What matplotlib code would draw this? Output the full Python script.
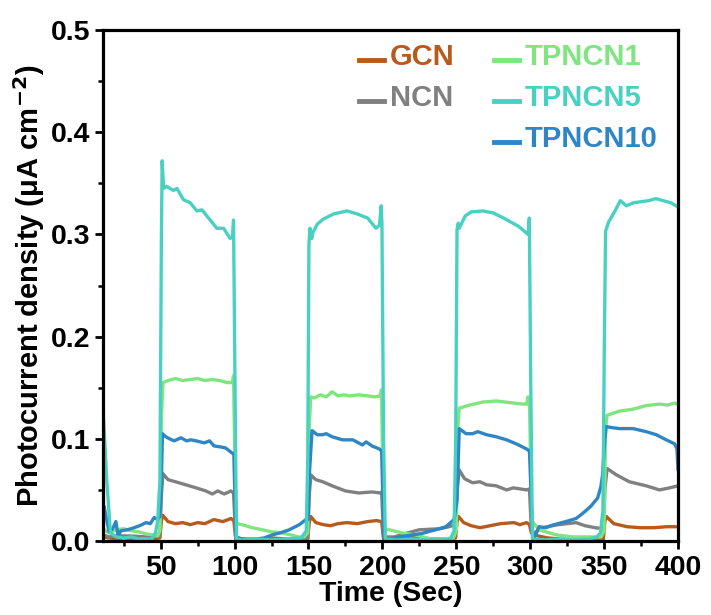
import matplotlib
matplotlib.use("Agg")
import matplotlib.pyplot as plt
from matplotlib.lines import Line2D
from matplotlib.legend_handler import HandlerLine2D
from matplotlib.ticker import MultipleLocator

# photocurrent traces, light on/off every 50 s
t_gcn = [11, 15, 20, 25, 30, 35, 40, 45, 49.5, 50.5, 51.5, 55, 60, 65, 70, 75, 80, 86, 92, 97.5, 99.5, 100.8,
         105, 115, 125, 135, 145, 149.5, 150.5, 151.5, 155, 160, 165, 170, 176, 183, 190, 196, 199.5, 200.8,
         205, 212, 218, 225, 235, 245, 249.5, 250.5, 251.5, 255, 260, 266, 273, 280, 289, 293, 297.5, 299.5, 300.8,
         305, 312, 320, 330, 340, 349.5, 350.5, 351.5, 356.5, 365.5, 374.5, 383.5, 392.5, 400]
j_gcn = [0.004, 0.003, 0.002, 0.003, 0.002, 0.003, 0.002, 0.002, 0.003, 0.020, 0.025, 0.019, 0.017, 0.018, 0.016,
         0.018, 0.017, 0.021, 0.019, 0.022, 0.020, 0.002,
         0.001, 0.001, 0.003, 0.002, 0.001, 0.002, 0.018, 0.024, 0.018, 0.016, 0.015, 0.017, 0.018, 0.017, 0.019,
         0.020, 0.019, 0.002,
         0.001, 0.003, 0.004, 0.003, 0.002, 0.002, 0.003, 0.019, 0.024, 0.018, 0.015, 0.013, 0.015, 0.017, 0.018,
         0.016, 0.018, 0.016, 0.008,
         0.005, 0.003, 0.002, 0.001, 0.001, 0.002, 0.019, 0.024, 0.017, 0.014, 0.013, 0.013, 0.014, 0.014]

t_ncn = [11, 15, 20, 30, 40, 45, 49.5, 50.5, 51.5, 55, 60, 67, 74, 80.5, 85, 88.6, 93, 97.5, 99.3, 100.8,
         110, 125, 140, 149.5, 150.5, 151.7, 155, 159.6, 166, 175, 184, 193, 198.5, 199.5, 200.8,
         208, 216, 225, 239, 245, 249.5, 250.5, 252, 255.6, 261, 266, 270.5, 277, 284, 288.6, 297.6, 299.5, 300.8,
         302.8, 308, 319, 331, 337, 344, 349.5, 350.5, 352, 358, 367, 378.5, 387.5, 394.3, 400]
j_ncn = [0.006, 0.004, 0.005, 0.005, 0.004, 0.004, 0.005, 0.045, 0.066, 0.060, 0.058, 0.055, 0.052, 0.049, 0.046,
         0.049, 0.046, 0.049, 0.047, 0.003,
         0.001, 0.002, 0.001, 0.002, 0.045, 0.0645, 0.060, 0.058, 0.054, 0.049, 0.047, 0.048, 0.047, 0.048, 0.004,
         0.004, 0.0075, 0.011, 0.012, 0.014, 0.016, 0.050, 0.0695, 0.061, 0.057, 0.058, 0.055, 0.054, 0.050, 0.052,
         0.050, 0.051, 0.010,
         0.008, 0.013, 0.016, 0.018, 0.015, 0.013, 0.012, 0.050, 0.071, 0.065, 0.058, 0.054, 0.050, 0.052, 0.054]

t_tp1 = [11, 15, 20, 25, 30, 35, 40, 45, 48, 49.5, 50.5, 51.5, 55, 60, 65, 70, 75, 80, 85, 90, 95, 98.5, 99.3,
         100.5, 101.5, 105, 112, 118.7, 125, 132, 138, 143, 147, 149.5, 150.5, 151.5, 154, 158, 162, 166, 170, 174,
         178, 184, 190, 195, 198.6, 199.4, 200.5, 201.5, 204.7, 213, 222, 233, 240, 248, 250, 251, 252, 259, 268,
         277, 283, 288.6, 295, 297.6, 298.5, 299.6, 301, 306, 317.7, 329, 340, 348, 350, 351, 352, 360, 369.5,
         378.5, 387.5, 393, 397.7, 400]
j_tp1 = [0.012, 0.008, 0.011, 0.012, 0.010, 0.009, 0.007, 0.006, 0.005, 0.010, 0.120, 0.155, 0.157, 0.159, 0.157,
         0.158, 0.159, 0.157, 0.158, 0.157, 0.155, 0.155, 0.162,
         0.050, 0.017, 0.016, 0.013, 0.011, 0.009, 0.008, 0.006, 0.004, 0.004, 0.008, 0.110, 0.141, 0.140, 0.143,
         0.141, 0.146, 0.142, 0.143, 0.142, 0.143, 0.142, 0.141, 0.142, 0.148, 0.040, 0.012, 0.011, 0.008, 0.006,
         0.002, 0.002, 0.003, 0.010, 0.110, 0.130, 0.133, 0.136, 0.137, 0.136, 0.135, 0.134, 0.134, 0.141, 0.130,
         0.020, 0.011, 0.006, 0.004, 0.004, 0.004, 0.010, 0.110, 0.123, 0.127, 0.129, 0.1325, 0.134, 0.133, 0.135,
         0.134]

t_tp5 = [11, 13.5, 16, 20, 25, 30, 35, 40, 44, 46.5, 48, 49.5, 50.5, 51, 52, 54, 58.6, 61, 65.4, 70, 74.5, 78,
         82.4, 88, 92.6, 97, 98.6, 99.3, 100.3, 101.3, 105, 115, 125, 135, 145, 148.5, 149.5, 150.3, 151, 152.2,
         153, 156, 160, 167, 176, 183, 190, 195.7, 198, 199.2, 199.7, 200.8, 202, 210, 220, 230, 240, 246, 248.5,
         249.6, 250.5, 251.3, 252, 256, 260, 268, 275, 282, 287, 292, 297, 298.6, 299.4, 300.4, 301.5, 310, 320,
         330, 340, 345, 347.5, 349.2, 350.2, 351, 353, 357, 361, 365, 370, 375, 380, 385, 390, 395, 400]
j_tp5 = [0.130, 0.060, 0.008, 0.004, 0.003, 0.004, 0.002, 0.002, 0.002, 0.008, 0.020, 0.060, 0.300, 0.372, 0.345,
         0.347, 0.343, 0.345, 0.334, 0.331, 0.323, 0.324, 0.316, 0.306, 0.306, 0.296, 0.298, 0.314, 0.150, 0.002,
         0.001, 0.002, 0.001, 0.002, 0.003, 0.010, 0.080, 0.290, 0.306, 0.296, 0.302, 0.310, 0.315, 0.320, 0.323,
         0.320, 0.316, 0.306, 0.309, 0.328, 0.310, 0.100, 0.002, 0.001, 0.002, 0.001, 0.001, 0.002, 0.010, 0.100,
         0.305, 0.311, 0.306, 0.318, 0.322, 0.323, 0.321, 0.316, 0.312, 0.308, 0.302, 0.300, 0.316, 0.150, 0.002,
         0.001, 0.002, 0.001, 0.002, 0.004, 0.008, 0.030, 0.200, 0.303, 0.312, 0.322, 0.333, 0.328, 0.331, 0.332,
         0.333, 0.335, 0.333, 0.331, 0.327]

t_tp10 = [11, 11.7, 15.1, 17.5, 19.7, 21.2, 23.1, 27.5, 32, 36.6, 40, 43, 45.6, 47.8, 49.5, 50.5, 51.2, 53.5, 56,
          59.1, 63.7, 67.5, 70.4, 74, 79.5, 83, 86.2, 90.8, 94, 97.5, 99.5, 100.9, 105, 115, 120, 125.5, 131, 137,
          143.8, 148.3, 149.8, 150.8, 152.4, 156, 159.6, 162, 166, 173, 180, 186.5, 189, 193, 198, 199.5, 201, 205,
          211.5, 220.5, 227, 236, 243, 248.5, 250.5, 252, 256.6, 261, 264.5, 270.5, 277, 284, 290.7, 297.6, 299.5,
          301.7, 302.8, 306, 310.5, 315, 324, 331, 335.5, 341, 345.6, 347.8, 349, 350.2, 351.4, 355, 360.4, 369.5,
          378.5, 385.3, 392, 397.8, 399.3, 400]
j_tp10 = [0.028, 0.034, 0.009, 0.012, 0.019, 0.005, 0.010, 0.011, 0.013, 0.0155, 0.018, 0.017, 0.023, 0.021, 0.024,
          0.060, 0.105, 0.102, 0.100, 0.098, 0.101, 0.098, 0.099, 0.098, 0.096, 0.098, 0.093, 0.092, 0.091, 0.087,
          0.085, 0.004, 0.002, 0.002, 0.003, 0.006, 0.008, 0.011, 0.016, 0.021, 0.021, 0.070, 0.108, 0.104, 0.104,
          0.105, 0.102, 0.099, 0.099, 0.094, 0.097, 0.093, 0.090, 0.088, 0.003, 0.002, 0.004, 0.006, 0.0075, 0.011,
          0.014, 0.021, 0.040, 0.110, 0.105, 0.105, 0.107, 0.104, 0.102, 0.099, 0.095, 0.090, 0.088, 0.004, 0.003,
          0.014, 0.013, 0.0155, 0.019, 0.022, 0.027, 0.034, 0.042, 0.053, 0.065, 0.095, 0.112, 0.111, 0.110, 0.110,
          0.107, 0.104, 0.099, 0.095, 0.090, 0.070]

labels = ["GCN", "NCN", "TPNCN1", "TPNCN5", "TPNCN10"]
colors = ["#B85A1C", "#808080", "#7FE57F", "#48D1C2", "#2F86C4"]


class LowLineHandler(HandlerLine2D):
    """Legend line sitting near the text baseline instead of mid-height."""
    def create_artists(self, legend, orig_handle, xdescent, ydescent, width, height, fontsize, trans):
        arts = super().create_artists(legend, orig_handle, xdescent, ydescent, width, height, fontsize, trans)
        for a in arts:
            a.set_ydata([y - 0.28 * height for y in a.get_ydata()])
        return arts


plt.rcParams['font.family'] = ['Liberation Sans', 'DejaVu Sans']
plt.rcParams['font.weight'] = 'bold'
plt.rcParams['mathtext.default'] = 'bf'

fig = plt.figure(figsize=(7.11, 6.15), dpi=100)
ax = fig.add_axes([0.1449, 0.1203, 0.8087, 0.8309])

series = [(t_gcn, j_gcn), (t_ncn, j_ncn), (t_tp1, j_tp1), (t_tp10, j_tp10), (t_tp5, j_tp5)]
order = [0, 1, 2, 4, 3]
lines = {}
for (t, j), k in zip(series, order):
    ln, = ax.plot(t, j, color=colors[k], lw=2.4, solid_joinstyle='round')
    lines[k] = ln

ax.set_xlim(11, 400)
ax.set_ylim(0, 0.5)
ax.xaxis.set_major_locator(MultipleLocator(50))
ax.xaxis.set_minor_locator(MultipleLocator(25))
ax.yaxis.set_major_locator(MultipleLocator(0.1))
ax.yaxis.set_minor_locator(MultipleLocator(0.05))
ax.tick_params(which='major', direction='out', length=6, width=2, labelsize=20.5)
ax.tick_params(which='minor', direction='out', length=3.5, width=1.8)
ax.tick_params(axis='y', pad=3)
ax.tick_params(axis='x', pad=4)
for s in ax.spines.values():
    s.set_linewidth(2.3)

ax.set_xlabel("Time (Sec)", fontsize=20.5, fontweight='bold', labelpad=0)
ax.set_ylabel("Photocurrent density (μA cm$^{-2}$)", fontsize=21, fontweight='bold', labelpad=3)

# two-column legend; empty slot keeps GCN/NCN in the left column
blank = Line2D([], [], color='none')
handles = [lines[0], lines[1], blank, lines[2], lines[3], lines[4]]
names = [labels[0], labels[1], "", labels[2], labels[3], labels[4]]
leg = ax.legend(handles, names, ncol=2, loc='upper right', bbox_to_anchor=(0.985, 0.998),
                frameon=False, fontsize=21, handlelength=0.85, handletextpad=0.2,
                columnspacing=1.35, labelspacing=0.45, borderaxespad=0,
                handler_map={Line2D: LowLineHandler()})
for txt, h in zip(leg.get_texts(), handles):
    txt.set_color(h.get_color() if h is not blank else 'none')
for lh in leg.get_lines():
    lh.set_linewidth(3.5)

fig.savefig("out.png", dpi=100)
